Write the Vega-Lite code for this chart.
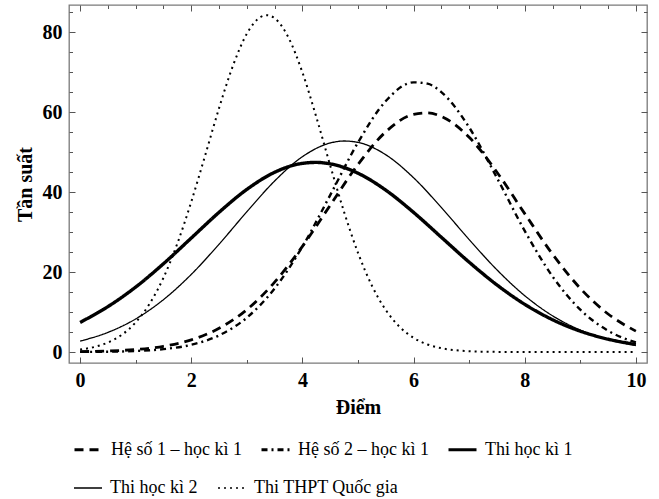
{
  "$schema": "https://vega.github.io/schema/vega-lite/v6.json",
  "width": 578,
  "height": 358,
  "autosize": {"type": "none"},
  "padding": {"left": 69, "top": 5, "right": 12, "bottom": 136},
  "background": "white",
  "config": {
    "view": {"stroke": "#7a7a7a", "strokeWidth": 1.3},
    "axis": {
      "domain": false,
      "grid": false,
      "labelFont": "Liberation Serif",
      "labelFontWeight": "bold",
      "labelFontSize": 20,
      "labelColor": "black",
      "labelFlush": false,
      "labelOverlap": false,
      "tickColor": "#555555",
      "tickWidth": 1,
      "tickSize": -6,
      "titleFont": "Liberation Serif",
      "titleFontWeight": "bold",
      "titleFontSize": 20,
      "titleColor": "black"
    }
  },
  "data": {
    "values": [
      {"s": "Hệ số 1 – học kì 1", "x": 0, "y": 0.09},
      {"s": "Hệ số 1 – học kì 1", "x": 0.5, "y": 0.25},
      {"s": "Hệ số 1 – học kì 1", "x": 1, "y": 0.62},
      {"s": "Hệ số 1 – học kì 1", "x": 1.5, "y": 1.43},
      {"s": "Hệ số 1 – học kì 1", "x": 2, "y": 3.04},
      {"s": "Hệ số 1 – học kì 1", "x": 2.5, "y": 5.92},
      {"s": "Hệ số 1 – học kì 1", "x": 3, "y": 10.6},
      {"s": "Hệ số 1 – học kì 1", "x": 3.5, "y": 17.46},
      {"s": "Hệ số 1 – học kì 1", "x": 4, "y": 26.4},
      {"s": "Hệ số 1 – học kì 1", "x": 4.5, "y": 36.7},
      {"s": "Hệ số 1 – học kì 1", "x": 5, "y": 46.89},
      {"s": "Hệ số 1 – học kì 1", "x": 5.5, "y": 55.05},
      {"s": "Hệ số 1 – học kì 1", "x": 6, "y": 59.4},
      {"s": "Hệ số 1 – học kì 1", "x": 6.25, "y": 59.77},
      {"s": "Hệ số 1 – học kì 1", "x": 6.5, "y": 58.9},
      {"s": "Hệ số 1 – học kì 1", "x": 7, "y": 53.67},
      {"s": "Hệ số 1 – học kì 1", "x": 7.5, "y": 44.95},
      {"s": "Hệ số 1 – học kì 1", "x": 8, "y": 34.59},
      {"s": "Hệ số 1 – học kì 1", "x": 8.5, "y": 24.47},
      {"s": "Hệ số 1 – học kì 1", "x": 9, "y": 15.91},
      {"s": "Hệ số 1 – học kì 1", "x": 9.5, "y": 9.5},
      {"s": "Hệ số 1 – học kì 1", "x": 10, "y": 5.22},
      {"s": "Hệ số 2 – học kì 1", "x": 0, "y": 0.02},
      {"s": "Hệ số 2 – học kì 1", "x": 0.5, "y": 0.08},
      {"s": "Hệ số 2 – học kì 1", "x": 1, "y": 0.25},
      {"s": "Hệ số 2 – học kì 1", "x": 1.5, "y": 0.71},
      {"s": "Hệ số 2 – học kì 1", "x": 2, "y": 1.81},
      {"s": "Hệ số 2 – học kì 1", "x": 2.5, "y": 4.16},
      {"s": "Hệ số 2 – học kì 1", "x": 3, "y": 8.59},
      {"s": "Hệ số 2 – học kì 1", "x": 3.5, "y": 15.88},
      {"s": "Hệ số 2 – học kì 1", "x": 4, "y": 26.35},
      {"s": "Hệ số 2 – học kì 1", "x": 4.5, "y": 39.23},
      {"s": "Hệ số 2 – học kì 1", "x": 5, "y": 52.38},
      {"s": "Hệ số 2 – học kì 1", "x": 5.5, "y": 62.74},
      {"s": "Hệ số 2 – học kì 1", "x": 6, "y": 67.41},
      {"s": "Hệ số 2 – học kì 1", "x": 6.25, "y": 67.08},
      {"s": "Hệ số 2 – học kì 1", "x": 6.5, "y": 64.96},
      {"s": "Hệ số 2 – học kì 1", "x": 7, "y": 56.15},
      {"s": "Hệ số 2 – học kì 1", "x": 7.5, "y": 43.55},
      {"s": "Hệ số 2 – học kì 1", "x": 8, "y": 30.29},
      {"s": "Hệ số 2 – học kì 1", "x": 8.5, "y": 18.9},
      {"s": "Hệ số 2 – học kì 1", "x": 9, "y": 10.58},
      {"s": "Hệ số 2 – học kì 1", "x": 9.5, "y": 5.31},
      {"s": "Hệ số 2 – học kì 1", "x": 10, "y": 2.39},
      {"s": "Thi học kì 1", "x": 0, "y": 7.4},
      {"s": "Thi học kì 1", "x": 0.5, "y": 11.35},
      {"s": "Thi học kì 1", "x": 1, "y": 16.24},
      {"s": "Thi học kì 1", "x": 1.5, "y": 22.07},
      {"s": "Thi học kì 1", "x": 2, "y": 28.49},
      {"s": "Thi học kì 1", "x": 2.5, "y": 34.92},
      {"s": "Thi học kì 1", "x": 3, "y": 40.65},
      {"s": "Thi học kì 1", "x": 3.5, "y": 44.93},
      {"s": "Thi học kì 1", "x": 4, "y": 47.16},
      {"s": "Thi học kì 1", "x": 4.25, "y": 47.4},
      {"s": "Thi học kì 1", "x": 4.5, "y": 47.04},
      {"s": "Thi học kì 1", "x": 5, "y": 44.69},
      {"s": "Thi học kì 1", "x": 5.5, "y": 40.46},
      {"s": "Thi học kì 1", "x": 6, "y": 34.9},
      {"s": "Thi học kì 1", "x": 6.5, "y": 28.68},
      {"s": "Thi học kì 1", "x": 7, "y": 22.46},
      {"s": "Thi học kì 1", "x": 7.5, "y": 16.77},
      {"s": "Thi học kì 1", "x": 8, "y": 11.92},
      {"s": "Thi học kì 1", "x": 8.5, "y": 8.08},
      {"s": "Thi học kì 1", "x": 9, "y": 5.21},
      {"s": "Thi học kì 1", "x": 9.5, "y": 3.21},
      {"s": "Thi học kì 1", "x": 10, "y": 1.88},
      {"s": "Thi học kì 2", "x": 0, "y": 2.72},
      {"s": "Thi học kì 2", "x": 0.5, "y": 4.9},
      {"s": "Thi học kì 2", "x": 1, "y": 8.27},
      {"s": "Thi học kì 2", "x": 1.5, "y": 13.09},
      {"s": "Thi học kì 2", "x": 2, "y": 19.4},
      {"s": "Thi học kì 2", "x": 2.5, "y": 26.95},
      {"s": "Thi học kì 2", "x": 3, "y": 35.06},
      {"s": "Thi học kì 2", "x": 3.5, "y": 42.75},
      {"s": "Thi học kì 2", "x": 4, "y": 48.83},
      {"s": "Thi học kì 2", "x": 4.5, "y": 52.25},
      {"s": "Thi học kì 2", "x": 4.75, "y": 52.75},
      {"s": "Thi học kì 2", "x": 5, "y": 52.4},
      {"s": "Thi học kì 2", "x": 5.5, "y": 49.31},
      {"s": "Thi học kì 2", "x": 6, "y": 43.56},
      {"s": "Thi học kì 2", "x": 6.5, "y": 36.12},
      {"s": "Thi học kì 2", "x": 7, "y": 28.11},
      {"s": "Thi học kì 2", "x": 7.5, "y": 20.54},
      {"s": "Thi học kì 2", "x": 8, "y": 14.08},
      {"s": "Thi học kì 2", "x": 8.5, "y": 9.06},
      {"s": "Thi học kì 2", "x": 9, "y": 5.48},
      {"s": "Thi học kì 2", "x": 9.5, "y": 3.11},
      {"s": "Thi học kì 2", "x": 10, "y": 1.65},
      {"s": "Thi THPT Quốc gia", "x": 0, "y": 0.61},
      {"s": "Thi THPT Quốc gia", "x": 0.25, "y": 1.23},
      {"s": "Thi THPT Quốc gia", "x": 0.5, "y": 2.37},
      {"s": "Thi THPT Quốc gia", "x": 0.75, "y": 4.3},
      {"s": "Thi THPT Quốc gia", "x": 1, "y": 7.4},
      {"s": "Thi THPT Quốc gia", "x": 1.25, "y": 12.05},
      {"s": "Thi THPT Quốc gia", "x": 1.5, "y": 18.58},
      {"s": "Thi THPT Quốc gia", "x": 1.75, "y": 27.15},
      {"s": "Thi THPT Quốc gia", "x": 2, "y": 37.55},
      {"s": "Thi THPT Quốc gia", "x": 2.25, "y": 49.16},
      {"s": "Thi THPT Quốc gia", "x": 2.5, "y": 60.96},
      {"s": "Thi THPT Quốc gia", "x": 2.75, "y": 71.57},
      {"s": "Thi THPT Quốc gia", "x": 3, "y": 79.57},
      {"s": "Thi THPT Quốc gia", "x": 3.25, "y": 83.76},
      {"s": "Thi THPT Quốc gia", "x": 3.36, "y": 84.2},
      {"s": "Thi THPT Quốc gia", "x": 3.5, "y": 83.45},
      {"s": "Thi THPT Quốc gia", "x": 3.75, "y": 78.57},
      {"s": "Thi THPT Quốc gia", "x": 4, "y": 69.89},
      {"s": "Thi THPT Quốc gia", "x": 4.25, "y": 58.74},
      {"s": "Thi THPT Quốc gia", "x": 4.5, "y": 46.64},
      {"s": "Thi THPT Quốc gia", "x": 4.75, "y": 34.99},
      {"s": "Thi THPT Quốc gia", "x": 5, "y": 24.8},
      {"s": "Thi THPT Quốc gia", "x": 5.25, "y": 16.6},
      {"s": "Thi THPT Quốc gia", "x": 5.5, "y": 10.5},
      {"s": "Thi THPT Quốc gia", "x": 5.75, "y": 6.27},
      {"s": "Thi THPT Quốc gia", "x": 6, "y": 3.54},
      {"s": "Thi THPT Quốc gia", "x": 6.25, "y": 1.89},
      {"s": "Thi THPT Quốc gia", "x": 6.5, "y": 0.95},
      {"s": "Thi THPT Quốc gia", "x": 6.75, "y": 0.45},
      {"s": "Thi THPT Quốc gia", "x": 7, "y": 0.2},
      {"s": "Thi THPT Quốc gia", "x": 7.5, "y": 0.03},
      {"s": "Thi THPT Quốc gia", "x": 8, "y": 0},
      {"s": "Thi THPT Quốc gia", "x": 8.5, "y": 0},
      {"s": "Thi THPT Quốc gia", "x": 9, "y": 0},
      {"s": "Thi THPT Quốc gia", "x": 9.5, "y": 0},
      {"s": "Thi THPT Quốc gia", "x": 10, "y": 0}
    ]
  },
  "layer": [
    {
      "transform": [{"filter": "datum.s !== 'Thi học kì 2' && datum.s !== 'Thi THPT Quốc gia'"}],
      "mark": {"type": "line", "interpolate": "monotone", "color": "black", "strokeCap": "butt"},
      "encoding": {
        "x": {
          "field": "x", "type": "quantitative",
          "scale": {"domain": [-0.2, 10.2], "nice": false, "zero": false},
          "axis": {
            "orient": "bottom",
            "title": "Điểm",
            "titleX": 289, "titleY": 50, "titleBaseline": "alphabetic", "titleAlign": "center",
            "values": [0,0.5,1,1.5,2,2.5,3,3.5,4,4.5,5,5.5,6,6.5,7,7.5,8,8.5,9,9.5,10],
            "format": "d",
            "labelExpr": "datum.value % 2 === 0 ? datum.label : ''",
            "tickDash": {"condition": {"test": "datum.value % 2 !== 0", "value": [3.5, 20]}, "value": [20, 0]},
            "labelPadding": 13
          }
        },
        "y": {
          "field": "y", "type": "quantitative",
          "scale": {"domain": [-2.75, 86.75], "nice": false, "zero": false},
          "axis": {
            "orient": "left",
            "title": "Tần suất",
            "titleX": -44, "titleY": 179, "titleAngle": -90, "titleBaseline": "middle", "titleAlign": "center",
            "values": [0,5,10,15,20,25,30,35,40,45,50,55,60,65,70,75,80,85],
            "format": "d",
            "labelExpr": "datum.value % 20 === 0 ? datum.label : ''",
            "tickDash": {"condition": {"test": "datum.value % 20 !== 0", "value": [3.5, 20]}, "value": [20, 0]},
            "labelPadding": 13
          }
        },
        "strokeWidth": {
          "condition": [
            {"test": "datum.s === 'Thi học kì 1'", "value": 3.4},
            {"test": "datum.s === 'Hệ số 2 – học kì 1'", "value": 2.4}
          ],
          "value": 2.8
        },
        "strokeDash": {
          "field": "s", "type": "nominal",
          "scale": {
            "domain": ["Hệ số 1 – học kì 1", "Hệ số 2 – học kì 1", "Thi học kì 1"],
            "range": [[9, 6], [6, 4, 2, 4], [1, 0]]
          },
          "legend": {
            "orient": "none", "legendX": 4, "legendY": 429,
            "direction": "horizontal",
            "title": null, "padding": 0,
            "labelFont": "Liberation Serif", "labelFontSize": 18, "labelColor": "black",
            "labelOffset": 7, "columnPadding": 13,
            "symbolType": "stroke", "symbolSize": 784, "symbolStrokeColor": "black", "symbolStrokeWidth": 2.8,
            "labelLimit": 400
          }
        }
      }
    },
    {
      "transform": [{"filter": "datum.s === 'Thi học kì 2' || datum.s === 'Thi THPT Quốc gia'"}],
      "mark": {"type": "line", "interpolate": "monotone", "color": "black", "strokeCap": "butt"},
      "encoding": {
        "x": {
          "field": "x", "type": "quantitative",
          "scale": {"domain": [-0.2, 10.2], "nice": false, "zero": false},
          "axis": null
        },
        "y": {
          "field": "y", "type": "quantitative",
          "scale": {"domain": [-2.75, 86.75], "nice": false, "zero": false},
          "axis": null
        },
        "strokeWidth": {
          "condition": {"test": "datum.s === 'Thi học kì 2'", "value": 1.3},
          "value": 2
        },
        "strokeDash": {
          "field": "s", "type": "nominal",
          "scale": {
            "domain": ["Thi học kì 2", "Thi THPT Quốc gia"],
            "range": [[1, 0], [2, 4]]
          },
          "legend": {
            "orient": "none", "legendX": 4, "legendY": 468,
            "direction": "horizontal",
            "title": null, "padding": 0,
            "labelFont": "Liberation Serif", "labelFontSize": 18, "labelColor": "black",
            "labelOffset": 7, "columnPadding": 16,
            "symbolType": "stroke", "symbolSize": 784, "symbolStrokeColor": "black", "symbolStrokeWidth": 1.6,
            "labelLimit": 400
          }
        }
      }
    },
    {
      "mark": {"type": "point", "opacity": 0},
      "encoding": {
        "x": {
          "field": "x", "type": "quantitative",
          "scale": {"domain": [-0.2, 10.2], "nice": false, "zero": false},
          "axis": {
            "orient": "top", "title": null, "labels": false,
            "values": [0,0.5,1,1.5,2,2.5,3,3.5,4,4.5,5,5.5,6,6.5,7,7.5,8,8.5,9,9.5,10],
            "tickDash": {"condition": {"test": "datum.value % 2 !== 0", "value": [3.5, 20]}, "value": [20, 0]}
          }
        },
        "y": {
          "field": "y", "type": "quantitative",
          "scale": {"domain": [-2.75, 86.75], "nice": false, "zero": false},
          "axis": {
            "orient": "right", "title": null, "labels": false,
            "values": [0,5,10,15,20,25,30,35,40,45,50,55,60,65,70,75,80,85],
            "tickDash": {"condition": {"test": "datum.value % 20 !== 0", "value": [3.5, 20]}, "value": [20, 0]}
          }
        }
      }
    }
  ],
  "resolve": {
    "axis": {"x": "independent", "y": "independent"},
    "scale": {"strokeDash": "independent"}
  }
}
